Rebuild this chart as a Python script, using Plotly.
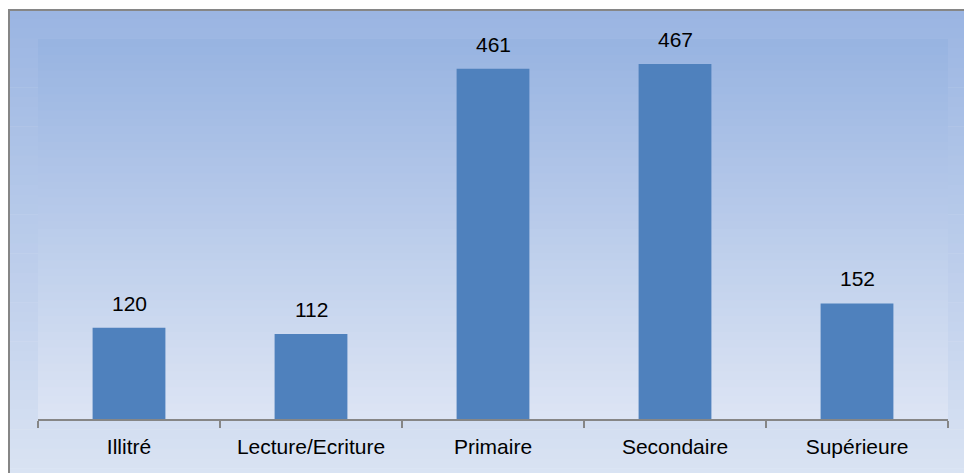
import plotly.graph_objects as go

categories = ["Illitré", "Lecture/Ecriture", "Primaire", "Secondaire", "Supérieure"]
values = [120, 112, 461, 467, 152]

W, H = 964, 473
ML, MR, MT, MB = 38, 16, 39, 54
PW, PH = W - ML - MR, H - MT - MB

BAR_COLOR = "#4F81BD"
AXIS_COLOR = "#868686"
FONT = "Liberation Sans, Arial, sans-serif"


def px_to_paper_x(px):
    return (px - ML) / PW


def px_to_paper_y(py):
    return (H - MB - py) / PH


def lerp_color(c1, c2, t):
    a = [int(c1[i:i + 2], 16) for i in (1, 3, 5)]
    b = [int(c2[i:i + 2], 16) for i in (1, 3, 5)]
    return "rgb({},{},{})".format(*[round(a[k] + (b[k] - a[k]) * t) for k in range(3)])


def gradient_bands(x0, x1, y0, y1, top, bottom, n=48):
    shapes = []
    step = (y1 - y0) / n
    for i in range(n):
        ya = y0 + i * step
        yb = ya + step + 0.6
        shapes.append(dict(
            type="rect", xref="paper", yref="paper", layer="below",
            x0=px_to_paper_x(x0), x1=px_to_paper_x(x1),
            y0=px_to_paper_y(yb), y1=px_to_paper_y(ya),
            fillcolor=lerp_color(top, bottom, (i + 0.5) / n), line=dict(width=0),
        ))
    return shapes


shapes = []
# chart area background
shapes += gradient_bands(9, W + 5, 9, H + 5, "#9AB5E2", "#DAE3F3")
# plot area background
shapes += gradient_bands(ML, W - MR, MT, H - MB, "#97B3E1", "#DDE5F4")
# chart frame (left and top edges)
shapes.append(dict(type="line", xref="paper", yref="paper", layer="below",
                   x0=px_to_paper_x(9), x1=px_to_paper_x(9),
                   y0=px_to_paper_y(9), y1=px_to_paper_y(H + 5),
                   line=dict(color=AXIS_COLOR, width=2)))
shapes.append(dict(type="line", xref="paper", yref="paper", layer="below",
                   x0=px_to_paper_x(8), x1=px_to_paper_x(W + 5),
                   y0=px_to_paper_y(10), y1=px_to_paper_y(10),
                   line=dict(color=AXIS_COLOR, width=2)))

fig = go.Figure(go.Bar(
    x=categories, y=values, width=0.4,
    marker=dict(color=BAR_COLOR, line=dict(width=0)),
    hoverinfo="x+y",
))

annotations = [
    dict(x=c, y=v, xref="x", yref="y", text=str(v), showarrow=False,
         yanchor="bottom", yshift=11, font=dict(family=FONT, size=21, color="#000000"))
    for c, v in zip(categories, values)
]

fig.update_layout(
    width=W, height=H,
    margin=dict(l=ML, r=MR, t=MT, b=MB),
    paper_bgcolor="#FFFFFF",
    plot_bgcolor="rgba(0,0,0,0)",
    shapes=shapes,
    annotations=annotations,
    showlegend=False,
    bargap=0.6,
    font=dict(family=FONT, size=21, color="#000000"),
    xaxis=dict(
        showgrid=False, zeroline=False,
        showline=True, linecolor=AXIS_COLOR, linewidth=2,
        ticks="outside", tickson="boundaries", ticklen=7,
        tickcolor=AXIS_COLOR, tickwidth=2,
        ticklabelstandoff=8,
        tickfont=dict(family=FONT, size=21, color="#000000"),
        range=[-0.5, 4.5],
    ),
    yaxis=dict(range=[0, 500], visible=False, showgrid=False, zeroline=False),
)

fig.write_html("out.html")
